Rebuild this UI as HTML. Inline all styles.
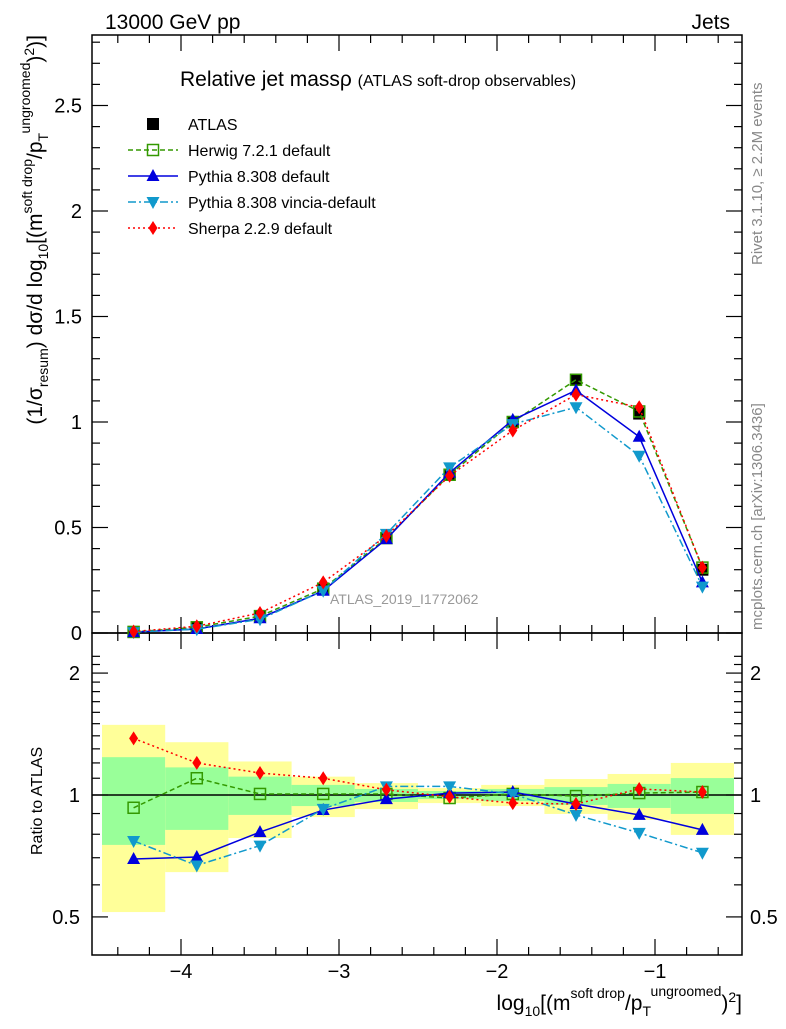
<!DOCTYPE html>
<html><head><meta charset="utf-8"><style>
body{margin:0;background:#fff;}
svg text{font-family:"Liberation Sans",sans-serif;}
</style></head><body>
<svg id="c" width="786" height="1024" xmlns="http://www.w3.org/2000/svg"></svg>
<script>
const xs=[-4.3,-3.9,-3.5,-3.1,-2.7,-2.3,-1.9,-1.5,-1.1,-0.7];
const atlas=[0.005,0.025,0.08,0.21,0.45,0.75,1.0,1.2,1.04,0.30];
const herwig=[0.005,0.027,0.08,0.21,0.45,0.75,1.0,1.2,1.05,0.31];
const pythia=[0.004,0.019,0.07,0.2,0.445,0.76,1.01,1.15,0.93,0.24];
const vincia=[0.004,0.018,0.065,0.2,0.47,0.785,0.99,1.07,0.84,0.22];
const sherpa=[0.007,0.032,0.095,0.24,0.46,0.745,0.96,1.13,1.07,0.31];
const rHerwig=[0.93,1.10,1.006,1.006,1.006,0.983,1.006,0.994,1.011,1.017];
const rPythia=[0.695,0.703,0.81,0.918,0.977,1.011,1.017,0.95,0.893,0.82];
const rVincia=[0.77,0.67,0.75,0.924,1.05,1.05,1.006,0.893,0.806,0.72];
const rSherpa=[1.38,1.2,1.133,1.10,1.03,0.99,0.955,0.95,1.035,1.017];
const yelHi=[1.49,1.35,1.21,1.11,1.07,1.04,1.059,1.095,1.127,1.2];
const yelLo=[0.514,0.645,0.783,0.882,0.923,0.955,0.939,0.898,0.868,0.797];
const grnHi=[1.24,1.17,1.11,1.059,1.035,1.023,1.035,1.046,1.065,1.101];
const grnLo=[0.753,0.82,0.893,0.939,0.961,0.977,0.966,0.945,0.929,0.898];
const binW=0.4;

const svg=document.getElementById('c');const NS='http://www.w3.org/2000/svg';
function el(t,a,txt){const e=document.createElementNS(NS,t);for(const k in a)e.setAttribute(k,a[k]);if(txt!==undefined)e.textContent=txt;svg.appendChild(e);return e;}
const L=92,R=742,T1=35,B1=633,B2=955;
const X=v=>181+(v+4)*158;
const Y=v=>633-v*211;
const YR=v=>795-Math.log10(v)*405;

for(let i=0;i<xs.length;i++){
 let r=el('rect',{x:X(xs[i]-binW/2),y:YR(yelHi[i]),width:158*binW,height:YR(yelLo[i])-YR(yelHi[i]),fill:'#ffff99'});
 
 r=el('rect',{x:X(xs[i]-binW/2),y:YR(grnHi[i]),width:158*binW,height:YR(grnLo[i])-YR(grnHi[i]),fill:'#99ff99'});
 
}
el('line',{x1:L,x2:R,y1:YR(1),y2:YR(1),stroke:'#000','stroke-width':1.5});

el('rect',{x:L,y:T1,width:R-L,height:B1-T1,fill:'none',stroke:'#000','stroke-width':1.5});
el('rect',{x:L,y:B1,width:R-L,height:B2-B1,fill:'none',stroke:'#000','stroke-width':1.5});
function tk(x1,y1,x2,y2){el('line',{x1,y1,x2,y2,stroke:'#000','stroke-width':1.2});}
for(let v=-4.6;v<=-0.49;v+=0.2){const x=X(v);if(x<L||x>R)continue;const maj=Math.abs(v-Math.round(v))<0.01;const l=maj?16:8;
 tk(x,B1,x,B1-l);tk(x,T1,x,T1+l);tk(x,B2,x,B2-l);tk(x,B1,x,B1+l);
 if(maj){const t=el('text',{x:x,y:978,'font-size':20,'text-anchor':'middle'},'\u2212'+Math.abs(Math.round(v)));}}
for(let k=0;k<=28;k++){const v=k/10,y=Y(v);if(y<T1)continue;const maj=k%5==0;const l=maj?16:8;tk(L,y,L+l,y);tk(R,y,R-l,y);
 if(maj){const t=el('text',{x:82,y:y+7,'font-size':20,'text-anchor':'end'},k==0?'0':(v%1==0?v.toFixed(0):v.toFixed(1)));}}
for(let k=4;k<=22;k++){const v=k/10,y=YR(v);if(y>B2||y<B1)continue;const maj=(k==5||k==10||k==20);const l=maj?16:8;tk(L,y,L+l,y);tk(R,y,R-l,y);
 if(maj){const s=k==5?'0.5':String(k/10);let t=el('text',{x:80,y:y+7,'font-size':20,'text-anchor':'end'},s);
 t=el('text',{x:750,y:y+7,'font-size':20},s);}}

function marker(type,x,y,c){
 if(type=='sq')return el('rect',{x:x-6,y:y-6,width:12,height:12,fill:'#000'});
 if(type=='osq')return el('rect',{x:x-5.5,y:y-5.5,width:11,height:11,fill:'none',stroke:c,'stroke-width':1.5});
 if(type=='up')return el('polygon',{points:`${x},${y-7} ${x-6.5},${y+5} ${x+6.5},${y+5}`,fill:c});
 if(type=='dn')return el('polygon',{points:`${x},${y+7} ${x-6.5},${y-5} ${x+6.5},${y-5}`,fill:c});
 if(type=='dia')return el('polygon',{points:`${x},${y-7} ${x-4.5},${y} ${x},${y+7} ${x+4.5},${y}`,fill:c});
}
function series(name,vals,fy,c,dash,w,mk){
 const d=vals.map((v,i)=>(i?'L':'M')+X(xs[i])+','+fy(v)).join(' ');
 const p=el('path',{d,fill:'none',stroke:c,'stroke-width':w,'stroke-dasharray':dash});
 
 vals.forEach((v,i)=>{const m=marker(mk,X(xs[i]),fy(v),c);});
}
const S=[['herwig',herwig,rHerwig,'#339900','5,3',1.5,'osq'],['pythia',pythia,rPythia,'#0000dd','',1.5,'up'],
 ['vincia',vincia,rVincia,'#1199cc','8,3,2,3',1.5,'dn'],['sherpa',sherpa,rSherpa,'#ff0000','2,3',1.5,'dia']];
atlas.forEach((v,i)=>{const m=marker('sq',X(xs[i]),Y(v));});
S.forEach(s=>series(s[0],s[1],Y,s[3],s[4],s[5],s[6]));
S.forEach(s=>series(s[0]+'-ratio',s[2],YR,s[3],s[4],s[5],s[6]));

const LG=[['ATLAS','sq','#000',''],['Herwig 7.2.1 default','osq','#339900','5,3'],['Pythia 8.308 default','up','#0000dd',''],['Pythia 8.308 vincia-default','dn','#1199cc','8,3,2,3'],['Sherpa 2.2.9 default','dia','#ff0000','2,3']];
LG.forEach((g,i)=>{const y=124+i*26;
 if(i>0){const l=el('line',{x1:128,x2:178,y1:y,y2:y,stroke:g[2],'stroke-width':1.5,'stroke-dasharray':g[3]});}
 const m=marker(g[1],153,y,g[2]);
 const t=el('text',{x:188,y:y+6,'font-size':16},g[0]);});

function T(name,a,s){const t=el('text',a,s);return t;}
T('header-left',{x:105,y:29,'font-size':21},'13000 GeV pp');
T('header-right',{x:730,y:29,'font-size':21,'text-anchor':'end'},'Jets');
const tt=T('plot-title',{x:180,y:86,'font-size':21},'Relative jet mass\u03C1 ');
const ts=document.createElementNS(NS,'tspan');ts.setAttribute('font-size','16');ts.textContent='(ATLAS soft-drop observables)';tt.appendChild(ts);
T('analysis-watermark',{x:330,y:604,'font-size':14,fill:'#999'},'ATLAS_2019_I1772062');
T('rivet-label',{x:0,y:0,'font-size':15,fill:'#888',transform:'translate(762,265) rotate(-90)'},'Rivet 3.1.10, \u2265 2.2M events');
T('mcplots-label',{x:0,y:0,'font-size':15,fill:'#888',transform:'translate(762,630) rotate(-90)'},'mcplots.cern.ch [arXiv:1306.3436]');
T('ratio-y-title',{x:0,y:0,'font-size':16,transform:'translate(42,855) rotate(-90)'},'Ratio to ATLAS');
const yt=T('y-axis-title',{x:0,y:0,'font-size':21,'text-anchor':'end',transform:'translate(42,35) rotate(-90)'},'');
yt.innerHTML='(1/\u03C3<tspan font-size="14" dy="6">resum</tspan><tspan dy="-6">) d\u03C3/d log</tspan><tspan font-size="14" dy="6">10</tspan><tspan dy="-6">[(m</tspan><tspan font-size="14" dy="-10">soft drop</tspan><tspan dy="10">/p</tspan><tspan font-size="14" dy="6">T</tspan><tspan font-size="14" dy="-18">ungroomed</tspan><tspan dy="12">)</tspan><tspan font-size="14" dy="-8">2</tspan><tspan dy="8">)]</tspan>';
const xt=T('x-axis-title',{x:742,y:1010,'font-size':21,'text-anchor':'end'},'');
xt.innerHTML='log<tspan font-size="14" dy="6">10</tspan><tspan dy="-6">[(m</tspan><tspan font-size="14" dy="-12">soft drop</tspan><tspan dy="12">/p</tspan><tspan font-size="14" dy="6">T</tspan><tspan font-size="14" dy="-20">ungroomed</tspan><tspan dy="14">)</tspan><tspan font-size="14" dy="-8">2</tspan><tspan dy="8">]</tspan>';
</script>
</body></html>
